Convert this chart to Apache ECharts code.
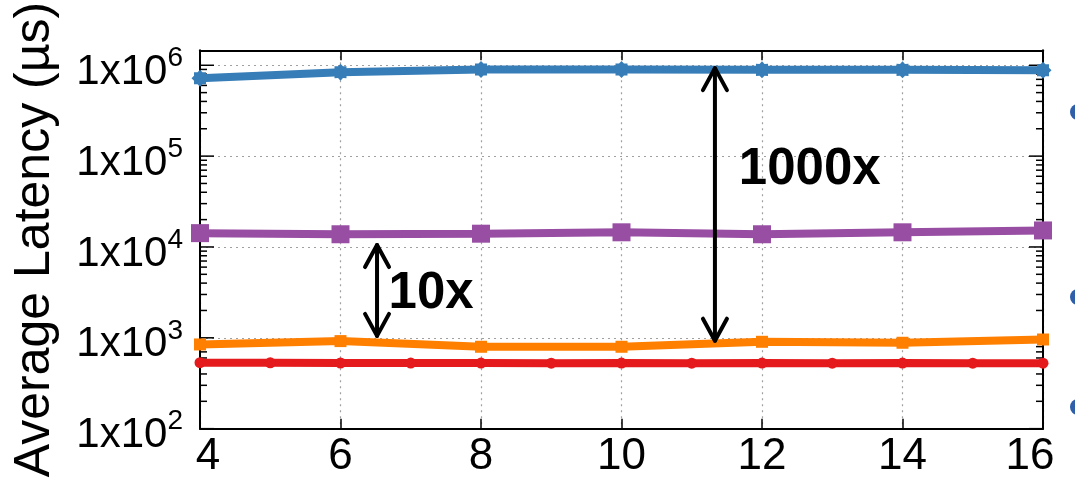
<!DOCTYPE html>
<html>
<head>
<meta charset="utf-8">
<script src="https://cdn.jsdelivr.net/npm/echarts@6/dist/echarts.min.js"></script>
<style>
html,body{margin:0;padding:0;background:#fff;}
#chart{width:1075px;height:480px;}
</style>
</head>
<body>
<div id="chart"></div>
<script>
// ---- data ----
const xValues = [4, 6, 8, 10, 12, 14, 16];
const xRed = [4, 5, 6, 7, 8, 9, 10, 11, 12, 13, 14, 15, 16];
const blueData = [720000, 840000, 900000, 900000, 890000, 890000, 880000];
const purpleData = [14200, 13800, 14000, 14500, 13800, 14500, 15200];
const orangeData = [845, 920, 797, 797, 904, 882, 958];
const redData = [532, 530, 528, 527, 527, 526, 527, 526, 527, 526, 527, 526, 525];
const xTickLabels = ['4', '6', '8', '10', '12', '14', '16'];
const yDecades = [100, 1000, 10000, 100000, 1000000];
const yExponents = ['2', '3', '4', '5', '6'];
const arrowX = [11.33, 6.52];
const arrowLow = [930, 1050];
const arrowHigh = [930000, 10500];
const noteText = ['1000x', '10x'];
const noteX = [12.68, 7.29];
const noteY = [70300, 3030];

const FONT = 'Liberation Sans, Arial, Helvetica, sans-serif';
const X_MIN = 4, X_MAX = 16, Y_MIN = 100, Y_MAX = 1460000;

// tick marks (major decades + minor 2..9)
const tickItems = [];
yDecades.forEach(function (d, i) {
  tickItems.push([X_MIN, d, 14]);
  if (i < yDecades.length - 1) {
    for (let k = 2; k <= 9; k++) tickItems.push([X_MIN, d * k, 7]);
  }
});

function starPath() {
  const pts = [];
  const n = 8;
  for (let i = 0; i < 2 * n; i++) {
    const r = (i % 2 === 0) ? 50 : 38;
    const a = i * Math.PI / n - Math.PI / 2;
    pts.push((50 + r * Math.cos(a)).toFixed(2) + ' ' + (50 + r * Math.sin(a)).toFixed(2));
  }
  return 'path://M' + pts.join(' L') + ' Z';
}

const chart = echarts.init(document.getElementById('chart'), null, {renderer: 'canvas'});

const dotted = {color: '#a0a0a0', width: 1.2, type: [2, 4]};

const option = {
  backgroundColor: '#ffffff',
  animation: false,
  grid: {left: 200, right: 32, top: 50, bottom: 49, containLabel: false},
  xAxis: [{
    type: 'value', min: X_MIN, max: X_MAX, interval: 2, position: 'bottom',
    axisLine: {show: true, onZero: false, lineStyle: {color: '#000', width: 2}},
    axisTick: {show: true, inside: true, length: 10, lineStyle: {color: '#000', width: 1.5}},
    splitLine: {show: true, lineStyle: dotted},
    axisLabel: {
      margin: 6, color: '#000', fontFamily: FONT, fontSize: 44,
      formatter: function (v) {
        const i = xValues.indexOf(v);
        if (i === 0) return '{first|' + xTickLabels[i] + '}';
        if (i === xValues.length - 1) return '{last|' + xTickLabels[i] + '}';
        return i >= 0 ? xTickLabels[i] : '';
      },
      rich: {
        first: {fontFamily: FONT, fontSize: 44, color: '#000', padding: [0, 0, 0, 16]},
        last: {fontFamily: FONT, fontSize: 44, color: '#000', padding: [0, 26, 0, 0]}
      }
    }
  }, {
    type: 'value', min: X_MIN, max: X_MAX, interval: 2, position: 'top',
    axisLine: {show: true, onZero: false, lineStyle: {color: '#000', width: 2}},
    axisTick: {show: true, inside: true, length: 10, lineStyle: {color: '#000', width: 1.5}},
    splitLine: {show: false}, axisLabel: {show: false}
  }],
  yAxis: [{
    type: 'log', logBase: 10, min: Y_MIN, max: Y_MAX, position: 'left',
    name: 'Average Latency (\u00b5s)', nameLocation: 'middle', nameRotate: 90, nameGap: 140,
    nameTextStyle: {fontFamily: FONT, fontSize: 50, color: '#000'},
    axisLine: {show: true, onZero: false, lineStyle: {color: '#000', width: 2}},
    axisTick: {show: false},
    splitLine: {show: true, lineStyle: dotted},
    axisLabel: {
      margin: 17, color: '#000', fontFamily: FONT,
      formatter: function (v) {
        for (let i = 0; i < yDecades.length; i++) {
          if (Math.abs(Math.log10(v) - Math.log10(yDecades[i])) < 1e-6) {
            return '{b|1x10}{s|' + yExponents[i] + '}';
          }
        }
        return '';
      },
      rich: {
        b: {fontFamily: FONT, fontSize: 42, color: '#000', lineHeight: 42, padding: [14, 0, 0, 0]},
        s: {fontFamily: FONT, fontSize: 28, color: '#000', lineHeight: 28, verticalAlign: 'top'}
      }
    }
  }, {
    type: 'value', min: 0, max: 1, position: 'right',
    axisLine: {show: true, onZero: false, lineStyle: {color: '#000', width: 2}},
    axisTick: {show: false}, splitLine: {show: false}, axisLabel: {show: false}
  }],
  series: [
    {
      type: 'custom', name: 'yticks', silent: true, z: 1,
      renderItem: function (params, api) {
        const v = api.value(1), len = api.value(2);
        const pl = api.coord([X_MIN, v]);
        const pr = api.coord([X_MAX, v]);
        return {type: 'group', children: [
          {type: 'line', shape: {x1: pl[0], y1: pl[1], x2: pl[0] + len, y2: pl[1]}, style: {stroke: '#000', lineWidth: 1.5}},
          {type: 'line', shape: {x1: pr[0], y1: pr[1], x2: pr[0] - len, y2: pr[1]}, style: {stroke: '#000', lineWidth: 1.5}}
        ]};
      },
      encode: {x: 0, y: 1},
      data: tickItems
    },
    {
      type: 'line', name: 'Blue', clip: false, z: 3,
      data: xValues.map(function (x, i) { return [x, blueData[i]]; }),
      color: '#377eb8', lineStyle: {width: 8, color: '#377eb8'},
      symbol: starPath(), symbolSize: 17, itemStyle: {color: '#377eb8'}
    },
    {
      type: 'line', name: 'Purple', clip: false, z: 3,
      data: xValues.map(function (x, i) { return [x, purpleData[i]]; }),
      color: '#984ea3', lineStyle: {width: 8, color: '#984ea3'},
      symbol: 'rect', symbolSize: 18, itemStyle: {color: '#984ea3'}
    },
    {
      type: 'line', name: 'Orange', clip: false, z: 3,
      data: xValues.map(function (x, i) { return [x, orangeData[i]]; }),
      color: '#ff7f00', lineStyle: {width: 8, color: '#ff7f00'},
      symbol: 'rect', symbolSize: 12, itemStyle: {color: '#ff7f00'}
    },
    {
      type: 'line', name: 'Red', clip: false, z: 3,
      data: xRed.map(function (x, i) { return [x, redData[i]]; }),
      color: '#e41a1c', lineStyle: {width: 8, color: '#e41a1c'},
      symbol: 'circle', symbolSize: 11, itemStyle: {color: '#e41a1c'}
    },
    {
      type: 'custom', name: 'arrows', silent: true, z: 5,
      renderItem: function (params, api) {
        const i = params.dataIndex;
        const lo = api.coord([arrowX[i], arrowLow[i]]);
        const hi = api.coord([arrowX[i], arrowHigh[i]]);
        const st = {stroke: '#000', lineWidth: 4, lineCap: 'round', lineJoin: 'round', fill: null};
        return {type: 'group', children: [
          {type: 'line', shape: {x1: lo[0], y1: lo[1], x2: hi[0], y2: hi[1]}, style: st},
          {type: 'polyline', shape: {points: [[hi[0] - 12, hi[1] + 22], [hi[0], hi[1]], [hi[0] + 12, hi[1] + 22]]}, style: st},
          {type: 'polyline', shape: {points: [[lo[0] - 12, lo[1] - 22], [lo[0], lo[1]], [lo[0] + 12, lo[1] - 22]]}, style: st}
        ]};
      },
      encode: {x: 0, y: 1},
      data: arrowX.map(function (x, i) { return [x, arrowLow[i], arrowHigh[i]]; })
    },
    {
      type: 'custom', name: 'notes', silent: true, z: 5,
      renderItem: function (params, api) {
        const i = params.dataIndex;
        const p = api.coord([noteX[i], noteY[i]]);
        return {type: 'text', x: p[0], y: p[1], style: {
          text: noteText[i], font: 'bold 51px ' + FONT, fill: '#000',
          align: 'center', verticalAlign: 'middle'
        }};
      },
      encode: {x: 0, y: 1},
      data: noteX.map(function (x, i) { return [x, noteY[i]]; })
    }
  ],
  graphic: [
    {type: 'circle', shape: {cx: 1078, cy: 112, r: 8}, style: {fill: '#2f5fa9'}},
    {type: 'circle', shape: {cx: 1078, cy: 297, r: 8}, style: {fill: '#2f5fa9'}},
    {type: 'circle', shape: {cx: 1078, cy: 407, r: 8}, style: {fill: '#2f5fa9'}}
  ]
};
chart.setOption(option);
</script>
</body>
</html>
